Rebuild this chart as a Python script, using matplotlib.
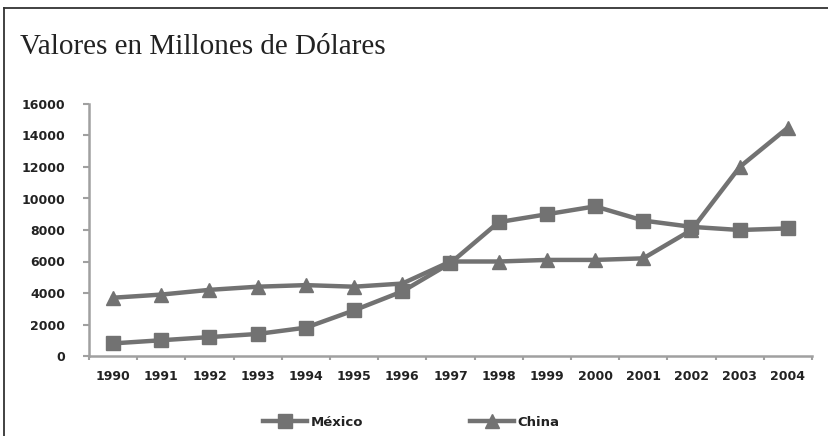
import matplotlib
matplotlib.use("Agg")
import matplotlib.pyplot as plt
from matplotlib.lines import Line2D
import numpy as np

years = ["1990", "1991", "1992", "1993", "1994", "1995", "1996", "1997",
         "1998", "1999", "2000", "2001", "2002", "2003", "2004"]
mexico = [800, 1000, 1200, 1400, 1800, 2900, 4100, 5900,
          8500, 9000, 9500, 8600, 8200, 8000, 8100]
china = [3700, 3900, 4200, 4400, 4500, 4400, 4600, 6000,
         6000, 6100, 6100, 6200, 8000, 12000, 14500]
yticks = [0, 2000, 4000, 6000, 8000, 10000, 12000, 14000, 16000]
title = "Valores en Millones de Dólares"

W, H = 829, 436
fig = plt.figure(figsize=(W / 100, H / 100), dpi=100)
fig.patch.set_facecolor("white")

# outer frame (left and top edges only visible)
fig.add_artist(Line2D([4 / W, 4 / W], [0, 1 - 8 / H], transform=fig.transFigure,
                      color="#333333", lw=1.3))
fig.add_artist(Line2D([4 / W, 1], [1 - 8 / H, 1 - 8 / H], transform=fig.transFigure,
                      color="#333333", lw=1.3))

fig.text(20 / W, 1 - 54 / H, title, family="Liberation Serif", fontsize=21,
         color="#222222", ha="left", va="baseline")

ax = fig.add_axes([89 / W, 1 - 356 / H, (812 - 89) / W, (356 - 104) / H])
x = np.arange(len(years))
line_color = "#727272"
l1, = ax.plot(x, mexico, color=line_color, lw=3.2, marker="s", markersize=10,
              label="México", zorder=3)
l2, = ax.plot(x, china, color=line_color, lw=3.2, marker="^", markersize=10,
              label="China", zorder=3)

ax.set_xlim(-0.5, len(years) - 0.5)
ax.set_ylim(0, 16000)
for s in ["top", "right"]:
    ax.spines[s].set_visible(False)
for s in ["left", "bottom"]:
    ax.spines[s].set_color("#a0a0a0")
    ax.spines[s].set_linewidth(1.8)

ax.set_yticks(yticks)
ax.set_yticklabels([str(v) for v in yticks])
ax.tick_params(axis="y", direction="out", length=4, width=1.5, color="#a0a0a0",
               pad=13, labelsize=9, labelcolor="#222222")

ax.set_xticks(np.arange(len(years) + 1) - 0.5)
ax.set_xticklabels([])
ax.tick_params(axis="x", which="major", direction="out", length=3, width=1.5,
               color="#a0a0a0")
ax.set_xticks(x, minor=True)
ax.set_xticklabels(years, minor=True)
ax.tick_params(axis="x", which="minor", length=0, pad=10, labelsize=9,
               labelcolor="#222222")

for t in ax.get_xticklabels(minor=True) + ax.get_yticklabels():
    t.set_fontweight("bold")

for handle, x0 in [(l1, 263), (l2, 470)]:
    leg = fig.legend(handles=[handle], loc="center left",
                     bbox_to_anchor=(x0 / W, 1 - 422 / H), frameon=False,
                     fontsize=9.5, handlelength=3.3, handletextpad=0.3,
                     borderpad=0, borderaxespad=0, markerscale=1.0)
    for t in leg.get_texts():
        t.set_color("#222222")
        t.set_fontweight("bold")

fig.savefig("out.png", dpi=100, facecolor="white")
